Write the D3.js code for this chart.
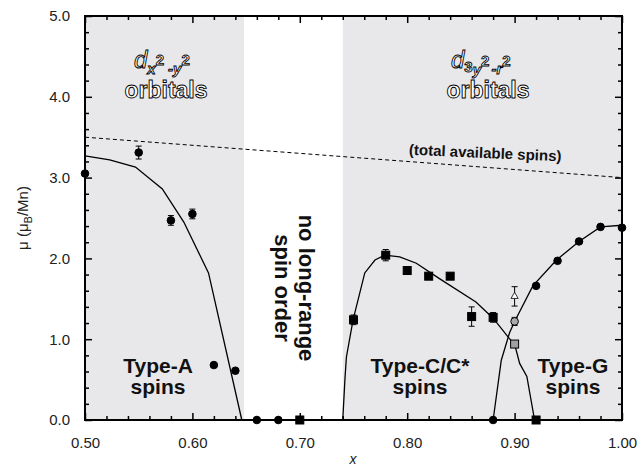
<!DOCTYPE html>
<html>
<head>
<meta charset="utf-8">
<script src="https://cdn.jsdelivr.net/npm/d3@7"></script>
<style>
  body { margin: 0; background: #fff; }
  svg text { font-family: Arial, "Liberation Sans", Helvetica, sans-serif; }
</style>
</head>
<body>
<svg id="chart" width="642" height="470"></svg>
<script>
// data
var xMajor = [0.50, 0.60, 0.70, 0.80, 0.90, 1.00];
var xMinor = [0.52,0.54,0.56,0.58,0.62,0.64,0.66,0.68,0.72,0.74,0.76,0.78,0.82,0.84,0.86,0.88,0.92,0.94,0.96,0.98];
var yMajor = [0, 1, 2, 3, 4, 5];
var yMinor = [0.2,0.4,0.6,0.8,1.2,1.4,1.6,1.8,2.2,2.4,2.6,2.8,3.2,3.4,3.6,3.8,4.2,4.4,4.6,4.8];

// shaded regions (x ranges)
var regions = [[0.50, 0.648], [0.740, 1.00]];

// Type-A (circles)
var typeA = [
  {x:0.50, y:3.05}, {x:0.55, y:3.31, e:0.08}, {x:0.58, y:2.47, e:0.06},
  {x:0.60, y:2.55, e:0.06}, {x:0.62, y:0.68}, {x:0.64, y:0.61},
  {x:0.66, y:0}, {x:0.68, y:0}
];
// Type-C/C* (squares)
var typeC = [
  {x:0.70, y:0}, {x:0.75, y:1.24, e:0.06}, {x:0.78, y:2.04, e:0.07},
  {x:0.80, y:1.85}, {x:0.82, y:1.78}, {x:0.84, y:1.78},
  {x:0.86, y:1.28, e:0.12}, {x:0.88, y:1.27, e:0.06}, {x:0.92, y:0}
];
// Type-G (circles)
var typeG = [
  {x:0.88, y:0}, {x:0.92, y:1.66}, {x:0.94, y:1.97},
  {x:0.96, y:2.21}, {x:0.98, y:2.39}, {x:1.00, y:2.38}
];
// grey points at x = 0.90
var greyCircle = [{x:0.90, y:1.22, e:0.05}];
var greySquare = [{x:0.90, y:0.94}];
var openTri = [{x:0.90, y:1.53, e:0.12}];

// guide curves
var curveA = [[0.50,3.27],[0.523,3.22],[0.547,3.13],[0.572,2.86],[0.592,2.45],[0.615,1.82],[0.646,0]];
var curveC = [[0.740,0],[0.742,0.5],[0.7434,0.78],[0.7496,1.24],[0.7605,1.82],[0.770,1.98],[0.779,2.04],
              [0.793,2.02],[0.8085,1.94],[0.830,1.75],[0.864,1.46],[0.880,1.26],[0.895,1.01],
              [0.900,0.94],[0.9047,0.70],[0.9114,0.54],[0.9186,0]];
var curveG = [[0.880,0],[0.8876,0.74],[0.8953,1.08],[0.900,1.22],[0.917,1.66],[0.939,1.98],
              [0.960,2.21],[0.980,2.39],[1.00,2.41]];
var totalSpins = [[0.50,3.50],[1.00,3.00]];

var margin = {left:85, right:20, top:16, bottom:50};
var W = 642, H = 470;
var x = d3.scaleLinear().domain([0.5, 1.0]).range([margin.left, W - margin.right]);
var y = d3.scaleLinear().domain([0, 5]).range([H - margin.bottom, margin.top]);

var svg = d3.select('#chart');
var fontFam = 'Arial, "Liberation Sans", Helvetica, sans-serif';

// background shading
svg.selectAll('rect.shade')
  .data(regions)
  .enter()
  .append('rect')
  .attr('class','shade')
  .attr('x', function(d){ return x(d[0]); })
  .attr('y', y(5))
  .attr('width', function(d){ return x(d[1]) - x(d[0]); })
  .attr('height', y(0) - y(5))
  .attr('fill', '#e8e8eb');

// axes, ticks pointing inward
function drawAxis(axisFn, values, size, tr, labels, fmt, pad){
  var ax = axisFn.tickValues(values).tickSizeInner(-size).tickSizeOuter(0).tickPadding(pad || 10);
  if (labels) { ax.tickFormat(d3.format(fmt)); } else { ax.tickFormat(''); }
  var g = svg.append('g').attr('transform', tr).call(ax);
  g.select('.domain').remove();
  g.selectAll('.tick line').attr('stroke', '#000').attr('stroke-width', 1.5);
  g.selectAll('.tick text').attr('font-size', 15).attr('fill', '#222')
    .attr('font-family', fontFam);
  return g;
}
drawAxis(d3.axisBottom(x), xMajor, 7, 'translate(0,' + y(0) + ')', true, '.2f', 17);
drawAxis(d3.axisBottom(x), xMinor, 4, 'translate(0,' + y(0) + ')', false);
drawAxis(d3.axisTop(x), xMajor, 7, 'translate(0,' + y(5) + ')', false);
drawAxis(d3.axisTop(x), xMinor, 4, 'translate(0,' + y(5) + ')', false);
drawAxis(d3.axisLeft(y), yMajor, 7, 'translate(' + x(0.5) + ',0)', true, '.1f', 15);
drawAxis(d3.axisLeft(y), yMinor, 4, 'translate(' + x(0.5) + ',0)', false);
drawAxis(d3.axisRight(y), yMajor, 7, 'translate(' + x(1.0) + ',0)', false);
drawAxis(d3.axisRight(y), yMinor, 4, 'translate(' + x(1.0) + ',0)', false);

// frame
svg.append('rect')
  .attr('x', x(0.5)).attr('y', y(5))
  .attr('width', x(1.0) - x(0.5)).attr('height', y(0) - y(5))
  .attr('fill', 'none').attr('stroke', '#000').attr('stroke-width', 2);

// lines
var line = d3.line().x(function(d){ return x(d[0]); }).y(function(d){ return y(d[1]); });
[curveA, curveC, curveG].forEach(function(c){
  svg.append('path').attr('d', line(c)).attr('fill','none').attr('stroke','#000').attr('stroke-width',1.3);
});
svg.append('path').attr('d', line(totalSpins)).attr('fill','none')
  .attr('stroke','#000').attr('stroke-width',1).attr('stroke-dasharray','4,3');

// error bars
var allErr = [].concat(typeA, typeC, typeG, greyCircle, greySquare, openTri).filter(function(d){ return d.e; });
var eb = svg.selectAll('g.err').data(allErr).enter().append('g').attr('class','err')
  .attr('stroke','#000').attr('stroke-width',1);
eb.append('line')
  .attr('x1', function(d){ return x(d.x); }).attr('x2', function(d){ return x(d.x); })
  .attr('y1', function(d){ return y(d.y - d.e); }).attr('y2', function(d){ return y(d.y + d.e); });
eb.append('line')
  .attr('x1', function(d){ return x(d.x) - 3; }).attr('x2', function(d){ return x(d.x) + 3; })
  .attr('y1', function(d){ return y(d.y + d.e); }).attr('y2', function(d){ return y(d.y + d.e); });
eb.append('line')
  .attr('x1', function(d){ return x(d.x) - 3; }).attr('x2', function(d){ return x(d.x) + 3; })
  .attr('y1', function(d){ return y(d.y - d.e); }).attr('y2', function(d){ return y(d.y - d.e); });

// markers
function circles(data, fill){
  svg.append('g').selectAll('circle').data(data).enter().append('circle')
    .attr('cx', function(d){ return x(d.x); }).attr('cy', function(d){ return y(d.y); })
    .attr('r', 3.8).attr('fill', fill).attr('stroke','#000').attr('stroke-width',1);
}
function squares(data, fill){
  svg.append('g').selectAll('rect').data(data).enter().append('rect')
    .attr('x', function(d){ return x(d.x) - 4; }).attr('y', function(d){ return y(d.y) - 4; })
    .attr('width', 8).attr('height', 8).attr('fill', fill).attr('stroke','#000').attr('stroke-width',1);
}
circles(typeA, '#000');
circles(typeG, '#000');
squares(typeC, '#000');
circles(greyCircle, '#aaaaaa');
squares(greySquare, '#a0a0a0');
svg.append('g').selectAll('path').data(openTri).enter().append('path')
  .attr('d', d3.symbol().type(d3.symbolTriangle).size(22))
  .attr('transform', function(d){ return 'translate(' + x(d.x) + ',' + y(d.y) + ')'; })
  .attr('fill', '#fff').attr('stroke', '#000').attr('stroke-width', 0.8);

// axis titles
svg.append('text')
  .attr('transform', 'translate(28,' + 218 + ') rotate(-90)')
  .attr('text-anchor','middle').attr('font-size', 15).attr('fill','#222')
  .html('\u03bc (\u03bc<tspan dy="4" font-size="11">B</tspan><tspan dy="-4">/Mn)</tspan>');
svg.append('text')
  .attr('x', 353).attr('y', 464).attr('text-anchor','middle')
  .attr('font-size', 14).attr('font-style','italic').attr('fill','#222').text('x');

// outlined orbital labels
function outlined(sel){
  return sel.attr('fill','#fff').attr('stroke','#000').attr('stroke-width',0.9)
    .attr('font-weight','bold');
}
var dl = outlined(svg.append('text').attr('x', 134).attr('y', 68));
dl.append('tspan').attr('font-size', 24).attr('font-style','italic').attr('font-weight','normal').text('d');
dl.append('tspan').attr('font-size', 15).attr('font-style','italic').attr('dy', 6).text('x');
dl.append('tspan').attr('font-size', 15).attr('dy', -9).text('2');
dl.append('tspan').attr('font-size', 15).attr('font-style','italic').attr('dy', 9).attr('dx', 4).text('-y');
dl.append('tspan').attr('font-size', 15).attr('dy', -9).text('2');
outlined(svg.append('text').attr('x', 166).attr('y', 98).attr('text-anchor','middle')
  .attr('font-size', 23).text('orbitals'));

var dr = outlined(svg.append('text').attr('x', 451).attr('y', 68));
dr.append('tspan').attr('font-size', 24).attr('font-style','italic').attr('font-weight','normal').text('d');
dr.append('tspan').attr('font-size', 15).attr('dy', 4).text('3');
dr.append('tspan').attr('font-size', 15).attr('font-style','italic').attr('dy', 3).text('y');
dr.append('tspan').attr('font-size', 15).attr('dy', -9).text('2');
dr.append('tspan').attr('font-size', 15).attr('font-style','italic').attr('dy', 8).attr('dx', 2).text('-r');
dr.append('tspan').attr('font-size', 15).attr('dy', -8).text('2');
outlined(svg.append('text').attr('x', 488).attr('y', 98).attr('text-anchor','middle')
  .attr('font-size', 23).text('orbitals'));

// total spins label
svg.append('text')
  .attr('transform', 'translate(485,158) rotate(2.5)')
  .attr('text-anchor','middle').attr('font-size', 15).attr('font-weight','bold')
  .attr('fill','#111').text('(total available spins)');

// no long-range spin order
var nl = svg.append('text')
  .attr('transform', 'translate(' + 299 + ',' + 288 + ') rotate(90)')
  .attr('text-anchor','middle').attr('font-size', 22).attr('font-weight','bold').attr('fill','#111');
nl.append('tspan').attr('x', 0).attr('y', 0).text('no long-range');
nl.append('tspan').attr('x', 0).attr('y', 24).text('spin order');

// phase labels
var phaseLabels = [
  {cx:158, l1:'Type-A'}, {cx:420, l1:'Type-C/C*'}, {cx:573, l1:'Type-G'}
];
phaseLabels.forEach(function(p){
  var t = svg.append('text').attr('text-anchor','middle').attr('font-size', 21)
    .attr('font-weight','bold').attr('fill','#111');
  t.append('tspan').attr('x', p.cx).attr('y', 373).text(p.l1);
  t.append('tspan').attr('x', p.cx).attr('y', 394).text('spins');
});
</script>
</body>
</html>
